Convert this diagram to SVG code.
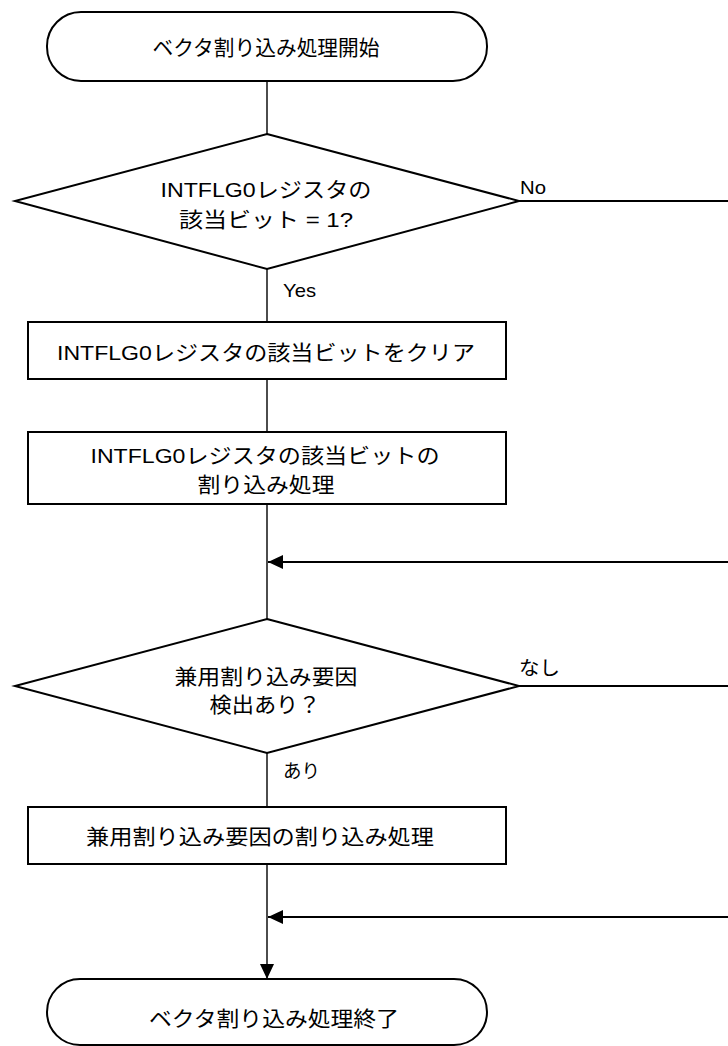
<svg xmlns="http://www.w3.org/2000/svg" width="728" height="1046" viewBox="0 0 728 1046">
<style>
.s{fill:#fff;stroke:#000;stroke-width:2}
.c{fill:none;stroke:#000;stroke-width:1.4}
.h{fill:none;stroke:#000;stroke-width:2}
text{font-family:"Liberation Sans","Noto Sans CJK JP",sans-serif;font-size:21px;fill:#000;dominant-baseline:central}
.m{text-anchor:middle}
.l{font-size:19px}
</style>
<defs>
<marker id="ah" viewBox="0 0 15 14" refX="15" refY="7" markerWidth="15" markerHeight="14" markerUnits="userSpaceOnUse" orient="auto">
<path d="M0,0 L15,7 L0,14 Z" fill="#000"/>
</marker>
</defs>
<rect width="728" height="1046" fill="#fff"/>
<g id="connectors">
<line class="c" x1="267" y1="81" x2="267" y2="134"/>
<line class="c" x1="267" y1="269" x2="267" y2="322"/>
<line class="c" x1="267" y1="379" x2="267" y2="432"/>
<line class="c" x1="267" y1="504" x2="267" y2="619"/>
<line class="c" x1="267" y1="753" x2="267" y2="807"/>
<line class="c" x1="267" y1="864" x2="267" y2="979" marker-end="url(#ah)"/>
<line class="h" x1="519" y1="201" x2="728" y2="201"/>
<line class="h" x1="728" y1="562" x2="268" y2="562" marker-end="url(#ah)"/>
<line class="h" x1="519" y1="686" x2="728" y2="686"/>
<line class="h" x1="728" y1="917" x2="268" y2="917" marker-end="url(#ah)"/>
<text class="l" x="520" y="187" textLength="26" lengthAdjust="spacingAndGlyphs">No</text>
<text class="l" x="283" y="290" textLength="33" lengthAdjust="spacingAndGlyphs">Yes</text>
<text class="l" x="519" y="668" textLength="41" lengthAdjust="spacingAndGlyphs">なし</text>
<text class="l" x="283" y="771" textLength="37" lengthAdjust="spacingAndGlyphs">あり</text>
</g>
<g id="start">
<rect class="s" x="47" y="12" width="440" height="69" rx="34" ry="34"/>
<text class="m" x="266" y="47" textLength="227" lengthAdjust="spacingAndGlyphs">ベクタ割り込み処理開始</text>
</g>
<g id="decision1">
<polygon class="s" points="267,134 519,201 267,269 15,201"/>
<text class="m" x="266" y="189" textLength="211" lengthAdjust="spacingAndGlyphs">INTFLG0レジスタの</text>
<text class="m" x="266" y="219" textLength="174" lengthAdjust="spacingAndGlyphs">該当ビット = 1?</text>
</g>
<g id="clear">
<rect class="s" x="28" y="322" width="478" height="57"/>
<text class="m" x="266" y="352" textLength="418" lengthAdjust="spacingAndGlyphs">INTFLG0レジスタの該当ビットをクリア</text>
</g>
<g id="proc1">
<rect class="s" x="28" y="432" width="478" height="72"/>
<text class="m" x="265" y="455" textLength="349" lengthAdjust="spacingAndGlyphs">INTFLG0レジスタの該当ビットの</text>
<text class="m" x="266" y="484" textLength="137" lengthAdjust="spacingAndGlyphs">割り込み処理</text>
</g>
<g id="decision2">
<polygon class="s" points="267,619 519,686 267,753 15,686"/>
<text class="m" x="266" y="676" textLength="183" lengthAdjust="spacingAndGlyphs">兼用割り込み要因</text>
<text class="m" x="265" y="704" textLength="111" lengthAdjust="spacingAndGlyphs">検出あり？</text>
</g>
<g id="proc2">
<rect class="s" x="28" y="807" width="478" height="57"/>
<text class="m" x="260" y="836" textLength="348" lengthAdjust="spacingAndGlyphs">兼用割り込み要因の割り込み処理</text>
</g>
<g id="end">
<rect class="s" x="47" y="979" width="440" height="66" rx="33" ry="33"/>
<text class="m" x="274" y="1018" textLength="250" lengthAdjust="spacingAndGlyphs">ベクタ割り込み処理終了</text>
</g>
</svg>
